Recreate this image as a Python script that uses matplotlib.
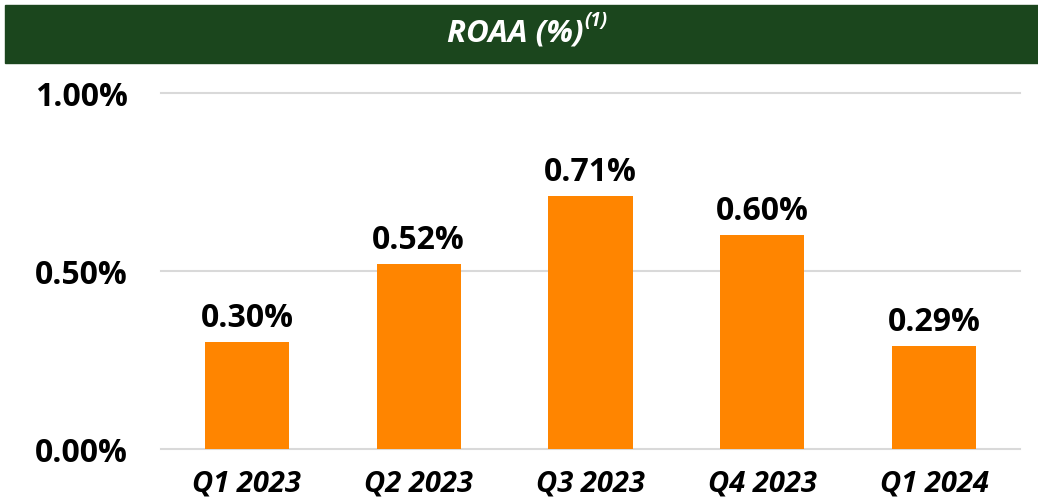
import matplotlib.pyplot as plt
from matplotlib.patches import Rectangle
from matplotlib.text import Annotation

# chart data
quarters = ["Q1 2023", "Q2 2023", "Q3 2023", "Q4 2023", "Q1 2024"]
roaa = [0.30, 0.52, 0.71, 0.60, 0.29]
yticks = [0.0, 0.5, 1.0]

green = "#1b461d"
orange = "#ff8500"

plt.rcParams["font.family"] = ["Open Sans", "DejaVu Sans"]

fig = plt.figure(figsize=(10.38, 5.04), dpi=100)

# green header band
fig.patches.append(Rectangle((5 / 1038, 1 - 63 / 504), 1033 / 1038, 58 / 504,
                             transform=fig.transFigure, color=green, zorder=0))
title = fig.text(0.496, 1 - 34 / 504, "ROAA (%)", color="white", fontsize=22.5,
                 fontweight="bold", style="italic", ha="center", va="center")
# superscript footnote marker next to the title
fig.add_artist(Annotation("(1)", xy=(1.0, 0.6), xycoords=title,
                          xytext=(1, 0), textcoords="offset points",
                          color="white", fontsize=13.5, fontweight="bold",
                          style="italic", ha="left", va="bottom",
                          annotation_clip=False))

ax = fig.add_axes([161 / 1038, 1 - 449 / 504, 859 / 1038, 356 / 504])
x = range(len(quarters))
bars = ax.bar(x, roaa, width=0.49, color=orange, zorder=2)
ax.bar_label(bars, labels=[f"{v:.2f}%" for v in roaa], padding=5,
             fontsize=23, fontweight="bold", color="black")

ax.set_xlim(-0.5, len(quarters) - 0.5)
ax.set_ylim(0, 1.0)
ax.set_yticks(yticks)
ax.set_yticklabels([f"{v:.2f}%" for v in yticks], fontsize=23, fontweight="bold")
ax.set_xticks(list(x))
ax.set_xticklabels(quarters, fontsize=21, fontweight="bold", style="italic")
ax.tick_params(axis="y", length=0, pad=24)
ax.tick_params(axis="x", length=0, pad=15)
ax.grid(axis="y", color="#d9d9d9", linewidth=1.5, zorder=0)
for gl in ax.get_ygridlines():
    gl.set_clip_on(False)
for s in ax.spines.values():
    s.set_visible(False)

fig.savefig("out.png", dpi=100)
